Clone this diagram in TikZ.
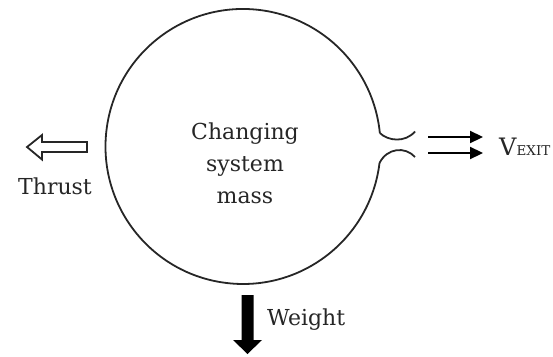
\documentclass[tikz,border=0pt]{standalone}
\usepackage{fontspec}
\setmainfont{DejaVu Serif}
\usetikzlibrary{arrows.meta}
\begin{document}
\begin{tikzpicture}[x=1pt,y=-1pt,
  lbl/.style={font=\fontsize{22}{32}\selectfont, inner sep=0pt, text=black!85},
  jet/.style={line width=2.2pt, -{Triangle[length=13pt,width=12pt]}},
  outline/.style={line width=1.8pt, draw=black!85}]
\useasboundingbox (0,0) rectangle (553,356);
% system boundary with nozzle
\coordinate (c) at (243,146.5);
\coordinate (nu1) at (379.8,133);
\coordinate (nu2) at (415,131.5);
\coordinate (nl1) at (379.5,163);
\coordinate (nl2) at (415,157);
\draw[outline] (nl1) arc[start angle=6.9, end angle=354.4, radius=137.5];
\draw[outline] (nu1) .. controls (388,141) and (405,143) .. (nu2);
\draw[outline] (nl1) .. controls (387,148) and (405,146) .. (nl2);
% exit jets
\coordinate (j1s) at (428,137); \coordinate (j1e) at (483,137);
\coordinate (j2s) at (428,153); \coordinate (j2e) at (483,153);
\draw[jet] (j1s) -- (j1e);
\draw[jet] (j2s) -- (j2e);
\node[inner sep=0pt, anchor=base west, text=black!85] (vexit) at (499,155)
  {\fontsize{24}{24}\selectfont V\fontsize{13.5}{14}\selectfont EXIT};
% thrust arrow (hollow)
\draw[outline, line join=miter] (27,147) -- (42,135) -- (42,142) -- (87,142)
  -- (87,152) -- (42,152) -- (42,159.5) -- cycle;
\node[lbl] (thrust) at (55,186) {Thrust};
% weight arrow (solid)
\fill (241.5,295) -- (253.5,295) -- (253.5,340) -- (262,340) -- (247.5,354) -- (233,340)
  -- (241.5,340) -- cycle;
\node[lbl, anchor=west] (weight) at (267,320) {Weight};
% centre text
\node[lbl, align=center] (mass) at (245,163) {Changing\\system\\mass};
\end{tikzpicture}
\end{document}
